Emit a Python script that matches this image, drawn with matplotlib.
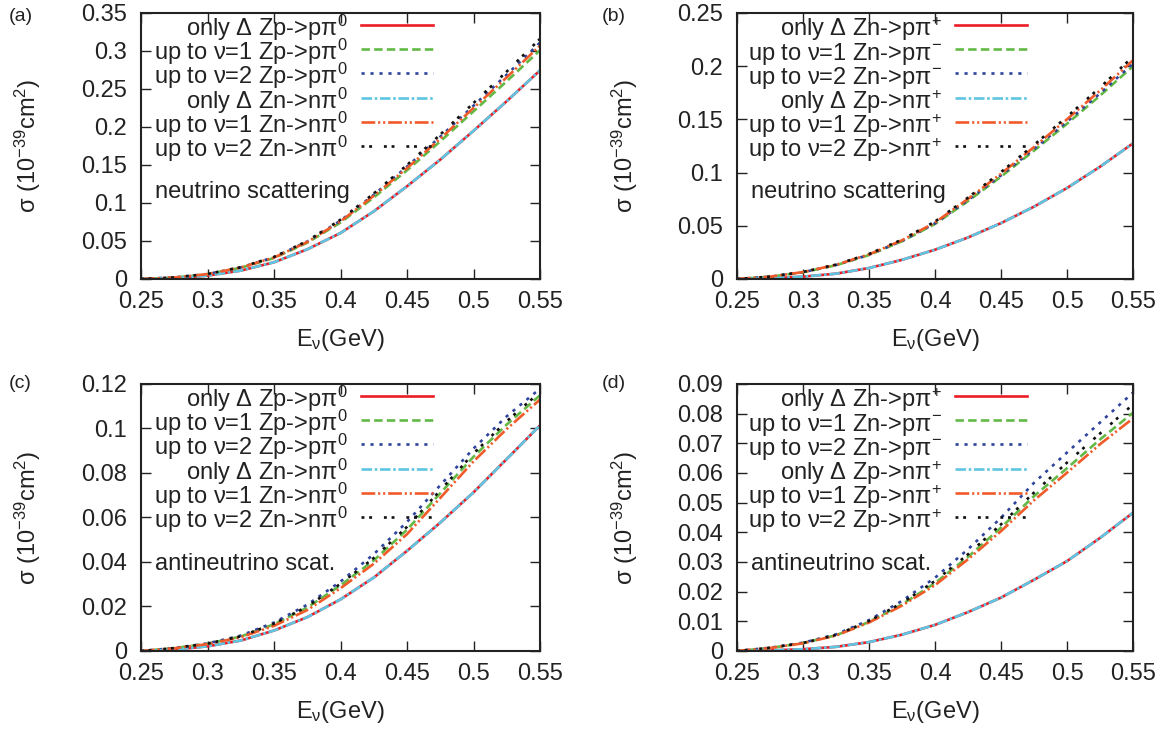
import matplotlib
matplotlib.use('Agg')
from matplotlib import pyplot as plt
from matplotlib.ticker import MultipleLocator, FuncFormatter

plt.rcParams['font.family'] = ['Liberation Sans', 'DejaVu Sans']
plt.rcParams['mathtext.fontset'] = 'custom'
plt.rcParams['mathtext.rm'] = 'Liberation Sans'
plt.rcParams['mathtext.it'] = 'Liberation Sans:italic'
plt.rcParams['mathtext.default'] = 'regular'

# Energia do neutrino (GeV)
energia = [0.25, 0.275, 0.3, 0.325, 0.35, 0.375, 0.4, 0.425, 0.45, 0.475, 0.5, 0.525, 0.55]

# (a) neutrino, pi0
a_delta_p = [0, 0.001, 0.0044, 0.011, 0.022, 0.039, 0.0605, 0.089, 0.122, 0.157, 0.195, 0.234, 0.2745]
a_nu1_p = [0, 0.0019, 0.0063, 0.0148, 0.0276, 0.0477, 0.0743, 0.1072, 0.1430, 0.1811, 0.2206, 0.2602, 0.301]
a_nu2_p = [0, 0.002, 0.0065, 0.0153, 0.0286, 0.0493, 0.0768, 0.1108, 0.1478, 0.1872, 0.2280, 0.2689, 0.311]
a_delta_n = [0, 0.001, 0.0044, 0.011, 0.022, 0.039, 0.0605, 0.089, 0.122, 0.157, 0.195, 0.234, 0.2745]
a_nu1_n = [0, 0.0019, 0.0064, 0.0151, 0.0282, 0.0486, 0.0758, 0.1094, 0.1458, 0.1847, 0.2250, 0.2654, 0.307]
a_nu2_n = [0, 0.002, 0.0066, 0.0155, 0.029, 0.050, 0.078, 0.1125, 0.150, 0.190, 0.2315, 0.273, 0.316]

# (b) neutrino, pi+/pi-
b_delta_n = [0, 0.0006, 0.0022, 0.005, 0.0103, 0.018, 0.0275, 0.039, 0.0525, 0.068, 0.0855, 0.1055, 0.1275]
b_nu1_n = [0, 0.0021, 0.0063, 0.0129, 0.0225, 0.0354, 0.0517, 0.0732, 0.0962, 0.1206, 0.1459, 0.1723, 0.200]
b_nu2_n = [0, 0.0021, 0.0064, 0.0131, 0.0228, 0.0358, 0.0523, 0.0741, 0.0974, 0.1221, 0.1478, 0.1744, 0.2025]
b_delta_p = [0, 0.0006, 0.0022, 0.005, 0.0103, 0.018, 0.0275, 0.039, 0.0525, 0.068, 0.0855, 0.1055, 0.1275]
b_nu1_p = [0, 0.0022, 0.0065, 0.0133, 0.0231, 0.0364, 0.0531, 0.0753, 0.0989, 0.1240, 0.1501, 0.1771, 0.2056]
b_nu2_p = [0, 0.0022, 0.0066, 0.0135, 0.0235, 0.037, 0.054, 0.0765, 0.1005, 0.126, 0.1525, 0.180, 0.209]

# (c) antineutrino, pi0
c_delta_p = [0, 0.0006, 0.0021, 0.0047, 0.0092, 0.0152, 0.0232, 0.033, 0.045, 0.0577, 0.0713, 0.0863, 0.1014]
c_nu1_p = [0, 0.0013, 0.0033, 0.0065, 0.0120, 0.0195, 0.0295, 0.0407, 0.0545, 0.0709, 0.0873, 0.1018, 0.1149]
c_nu2_p = [0, 0.0013, 0.0034, 0.0069, 0.0128, 0.0208, 0.0312, 0.0435, 0.0580, 0.0745, 0.0910, 0.1055, 0.1179]
c_delta_n = [0, 0.0006, 0.0021, 0.0047, 0.0092, 0.0152, 0.0232, 0.033, 0.045, 0.0577, 0.0713, 0.0863, 0.1014]
c_nu1_n = [0, 0.0012, 0.0031, 0.0062, 0.0113, 0.0184, 0.0282, 0.0392, 0.0525, 0.0688, 0.0852, 0.0998, 0.1130]
c_nu2_n = [0, 0.0013, 0.0033, 0.0066, 0.0123, 0.0200, 0.0302, 0.0418, 0.0558, 0.0722, 0.0888, 0.1033, 0.1164]

# (d) antineutrino, pi+/pi-
d_delta_n = [0, 0.0002, 0.0006, 0.0014, 0.003, 0.0055, 0.0088, 0.0131, 0.018, 0.024, 0.0303, 0.0381, 0.0466]
d_nu1_n = [0, 0.001, 0.0027, 0.0053, 0.0098, 0.0157, 0.0229, 0.0317, 0.0416, 0.0522, 0.0616, 0.0713, 0.0803]
d_nu2_n = [0, 0.0011, 0.0028, 0.0056, 0.0104, 0.0169, 0.0247, 0.0343, 0.0449, 0.0567, 0.0669, 0.077, 0.0871]
d_delta_p = [0, 0.0002, 0.0006, 0.0014, 0.003, 0.0055, 0.0088, 0.0131, 0.018, 0.024, 0.0303, 0.0381, 0.0466]
d_nu1_p = [0, 0.001, 0.0026, 0.0052, 0.0096, 0.0153, 0.0222, 0.0309, 0.0404, 0.0508, 0.0601, 0.0697, 0.0784]
d_nu2_p = [0, 0.0011, 0.0027, 0.0054, 0.0101, 0.0162, 0.0236, 0.0326, 0.0427, 0.0534, 0.0635, 0.0733, 0.0831]

rotulos_pi0 = ['only Δ Zp->pπ$^{0}$', 'up to ν=1 Zp->pπ$^{0}$', 'up to ν=2 Zp->pπ$^{0}$',
               'only Δ Zn->nπ$^{0}$', 'up to ν=1 Zn->nπ$^{0}$', 'up to ν=2 Zn->nπ$^{0}$']
rotulos_pic = ['only Δ Zn->pπ$^{+}$', 'up to ν=1 Zn->pπ$^{-}$', 'up to ν=2 Zn->pπ$^{-}$',
               'only Δ Zp->nπ$^{+}$', 'up to ν=1 Zp->nπ$^{+}$', 'up to ν=2 Zp->nπ$^{+}$']

estilos = [
    dict(color='#ec1c24', ls='-'),
    dict(color='#62b946', dashes=(3.2, 1.6)),
    dict(color='#2e449c', dashes=(1.2, 2.2)),
    dict(color='#5ec5e2', dashes=(4, 1, 1, 1)),
    dict(color='#f15a29', dashes=(5.2, 1.1, 0.8, 1.1, 0.8, 1.1)),
    dict(color='#111111', dashes=(1.1, 1.8, 1.1, 4.5)),
]
LW = 1.9
COR_TEXTO = '#222222'
FS = 17

figura = plt.figure(figsize=(11.74, 7.29), dpi=100)

paineis = [
    ('(a)', [0.1201, 0.6173, 0.3399, 0.3649], [a_delta_p, a_nu1_p, a_nu2_p, a_delta_n, a_nu1_n, a_nu2_n],
     rotulos_pi0, 0.35, 0.05, 'neutrino scattering'),
    ('(b)', [0.6278, 0.6173, 0.3373, 0.3649], [b_delta_n, b_nu1_n, b_nu2_n, b_delta_p, b_nu1_p, b_nu2_p],
     rotulos_pic, 0.25, 0.05, 'neutrino scattering'),
    ('(c)', [0.1201, 0.1070, 0.3399, 0.3663], [c_delta_p, c_nu1_p, c_nu2_p, c_delta_n, c_nu1_n, c_nu2_n],
     rotulos_pi0, 0.12, 0.02, 'antineutrino scat.'),
    ('(d)', [0.6278, 0.1070, 0.3373, 0.3663], [d_delta_n, d_nu1_n, d_nu2_n, d_delta_p, d_nu1_p, d_nu2_p],
     rotulos_pic, 0.09, 0.01, 'antineutrino scat.'),
]

fmt = FuncFormatter(lambda v, p: '%g' % round(v, 4))

for letra, pos, series, rotulos, ymax, passo, nota in paineis:
    ax = figura.add_axes(pos)
    for serie, est in zip(series, estilos):
        ax.plot(energia, serie, lw=LW, **est)

    ax.set_xlim(0.25, 0.55)
    ax.set_ylim(0, ymax)
    ax.xaxis.set_major_locator(MultipleLocator(0.05))
    ax.yaxis.set_major_locator(MultipleLocator(passo))
    ax.xaxis.set_major_formatter(fmt)
    ax.yaxis.set_major_formatter(fmt)
    ax.tick_params(direction='in', length=7, width=1.0, top=True, right=True,
                   labelsize=FS, colors=COR_TEXTO)
    ax.tick_params(axis='x', pad=9)
    ax.tick_params(axis='y', pad=10)
    for sp in ax.spines.values():
        sp.set_linewidth(1.5)
        sp.set_color(COR_TEXTO)

    ax.set_xlabel('E$_{ν}$(GeV)', fontsize=FS, color=COR_TEXTO)
    ax.xaxis.set_label_coords(0.5, -0.18)
    ax.xaxis.label.set_va('top')
    ax.set_ylabel('σ (10$^{-39}$cm$^{2}$)', fontsize=FS, color=COR_TEXTO)
    ax.yaxis.set_label_coords(-0.245, 0.5)

    # legenda no estilo gnuplot: texto alinhado a direita e amostra da linha
    altura_px = pos[3] * 729
    for i, (rot, est) in enumerate(zip(rotulos, estilos)):
        d_linha = 12 + 24.2 * i
        y_linha = 1 - d_linha / altura_px
        y_texto = 1 - (d_linha + 11) / altura_px
        ax.text(0.518, y_texto, rot, transform=ax.transAxes, ha='right', va='baseline',
                fontsize=FS, color=COR_TEXTO)
        ax.plot([0.551, 0.731], [y_linha, y_linha], transform=ax.transAxes,
                lw=LW, clip_on=False, **est)

    ax.text(0.035, 0.305, nota, transform=ax.transAxes, ha='left', va='baseline',
            fontsize=FS, color=COR_TEXTO)

    x_fig = 9 / 1174 if pos[0] < 0.5 else 602 / 1174
    y_fig = 1 - 8 / 729 if pos[1] > 0.5 else 1 - 375 / 729
    figura.text(x_fig, y_fig, letra, ha='left', va='top', fontsize=14, color=COR_TEXTO)

figura.savefig('out.png', dpi=100)
